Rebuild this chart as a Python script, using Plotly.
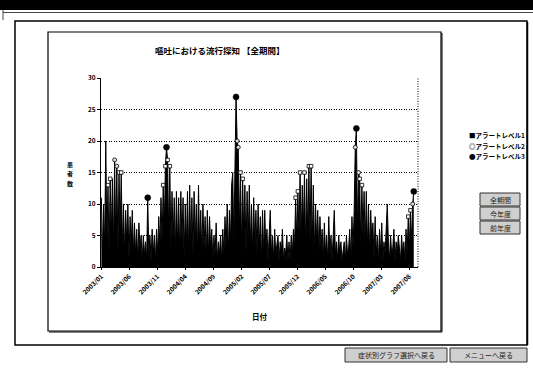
import plotly.graph_objects as go
import pandas as pd

W, H = 533, 372

title_text = "嘔吐における流行探知 【全期間】"
x_title = "日付"
y_title = "患者数"
legend_names = ["アラートレベル1", "アラートレベル2", "アラートレベル3"]
legend_glyphs = ["■", "◎", "●"]
tick_labels = ["2003/01", "2003/06", "2003/11", "2004/04", "2004/09", "2005/02",
               "2005/07", "2005/12", "2006/05", "2006/10", "2007/03", "2007/08"]
side_buttons = ["全期間", "今年度", "前年度"]
bottom_buttons = ["症状別グラフ選択へ戻る", "メニューへ戻る"]

start_date = "2003-01-01"
step_days = 6

# patient counts, one value every 6 days (each row = 60 days)
counts = [
    11, 2, 10, 3, 20, 4, 13, 2, 14, 5,      # 2003-01-01
    14, 3, 17, 5, 16, 2, 15, 6, 15, 3,      # 2003-03-02
    10, 2, 9, 4, 10, 1, 8, 3, 9, 2,         # 2003-05-01
    7, 2, 6, 1, 7, 3, 5, 1, 5, 2,           # 2003-06-30
    4, 1, 11, 2, 5, 1, 6, 2, 5, 1,          # 2003-08-29
    6, 2, 8, 3, 11, 4, 13, 6, 16, 19,       # 2003-10-28
    17, 5, 16, 3, 12, 4, 11, 2, 12, 3,      # 2003-12-27
    11, 2, 12, 4, 11, 1, 10, 3, 12, 2,      # 2004-02-25
    13, 3, 11, 2, 12, 4, 10, 2, 13, 3,      # 2004-04-25
    9, 2, 10, 3, 8, 1, 9, 2, 8, 3,          # 2004-06-24
    6, 1, 5, 2, 7, 1, 4, 2, 5, 1,           # 2004-08-23
    6, 2, 8, 3, 10, 2, 9, 4, 13, 15,        # 2004-10-22
    4, 16, 27, 20, 19, 6, 15, 3, 14, 5,     # 2004-12-21
    13, 2, 12, 4, 13, 3, 10, 2, 11, 3,      # 2005-02-19
    9, 2, 10, 3, 8, 1, 9, 2, 9, 3,          # 2005-04-20
    6, 1, 5, 9, 2, 5, 1, 6, 2, 4,           # 2005-06-19
    5, 1, 4, 2, 6, 1, 3, 2, 5, 1,           # 2005-08-18
    4, 1, 5, 2, 6, 3, 11, 4, 12, 5,         # 2005-10-17
    15, 4, 13, 6, 15, 3, 14, 5, 16, 4,      # 2005-12-16
    16, 3, 13, 2, 10, 4, 9, 2, 8, 3,        # 2006-02-14
    6, 1, 7, 2, 5, 1, 8, 2, 5, 1,           # 2006-04-15
    5, 9, 2, 4, 1, 5, 2, 4, 1, 3,           # 2006-06-14
    4, 1, 5, 2, 3, 6, 1, 8, 3, 9,           # 2006-08-13
    19, 22, 6, 15, 14, 3, 13, 5, 12, 3,     # 2006-10-12
    12, 3, 10, 2, 9, 4, 7, 1, 8, 2,         # 2006-12-11
    5, 1, 6, 2, 7, 1, 4, 2, 5, 10,          # 2007-02-09
    4, 1, 5, 2, 3, 6, 1, 4, 2, 5,           # 2007-04-10
    3, 1, 5, 2, 4, 1, 6, 2, 8, 3,           # 2007-06-09
    9, 4, 10, 12,                           # 2007-08-08
]

# positions (indices into counts) flagged at each alert level
alert1_idx = [6, 8, 16, 18, 56, 58, 60, 62, 126, 128, 176, 178, 180, 184, 188, 190, 234, 236, 278, 280]
alert2_idx = [12, 14, 123, 124, 230, 233, 282]
alert3_idx = [42, 59, 122, 231, 283]

dates = pd.date_range(start_date, periods=len(counts), freq=f"{step_days}D")
tick_dates = [pd.Timestamp(t.replace("/", "-") + "-01") for t in tick_labels]

JP = "Noto Sans CJK JP"


def px(x):
    return x / W


def py(y):
    return 1 - y / H


fig = go.Figure()

fig.add_trace(go.Scatter(
    x=dates, y=counts, mode="lines",
    line=dict(color="black", width=1),
    fill="tozeroy", fillcolor="black",
    showlegend=False, hoverinfo="x+y",
))

marker_styles = [
    dict(symbol="square", size=3.5, color="white", line=dict(color="black", width=0.8)),
    dict(symbol="circle", size=4, color="#dddddd", line=dict(color="black", width=0.8)),
    dict(symbol="circle", size=6, color="black", line=dict(color="black", width=0.5)),
]
for name, idx, ms in zip(legend_names, [alert1_idx, alert2_idx, alert3_idx], marker_styles):
    fig.add_trace(go.Scatter(
        x=[dates[i] for i in idx], y=[counts[i] for i in idx],
        mode="markers", marker=ms, name=name, showlegend=False,
    ))

shapes = []
# black header bar + thin line
shapes.append(dict(type="rect", xref="paper", yref="paper", x0=px(0), x1=px(W), y0=py(10), y1=py(0),
                   fillcolor="black", line=dict(width=0)))
shapes.append(dict(type="line", xref="paper", yref="paper", x0=px(3), x1=px(W), y0=py(12.5), y1=py(12.5),
                   line=dict(color="#444", width=1)))
shapes.append(dict(type="line", xref="paper", yref="paper", x0=px(3), x1=px(3), y0=py(10), y1=py(20),
                   line=dict(color="#444", width=1)))
# outer frame
shapes.append(dict(type="rect", xref="paper", yref="paper", x0=px(15), x1=px(527), y0=py(345), y1=py(21),
                   line=dict(color="black", width=1.5)))
shapes.append(dict(type="line", xref="paper", yref="paper", x0=px(527.5), x1=px(527.5), y0=py(345), y1=py(22),
                   line=dict(color="black", width=1.5)))
# inner chart box
shapes.append(dict(type="rect", xref="paper", yref="paper", x0=px(48), x1=px(441), y0=py(331), y1=py(32),
                   line=dict(color="black", width=1.2)))
shapes.append(dict(type="line", xref="paper", yref="paper", x0=px(442), x1=px(442), y0=py(332), y1=py(33),
                   line=dict(color="black", width=1)))
shapes.append(dict(type="line", xref="paper", yref="paper", x0=px(49), x1=px(442), y0=py(332), y1=py(332),
                   line=dict(color="black", width=1)))
# plot area right edge (dotted)
shapes.append(dict(type="line", xref="paper", yref="paper", x0=px(418), x1=px(418), y0=py(267), y1=py(78),
                   line=dict(color="black", width=1, dash="1px,1.5px")))

annotations = []
# title
annotations.append(dict(text=title_text, x=px(219), y=py(50), xref="paper", yref="paper",
                        showarrow=False, xanchor="center", yanchor="middle",
                        font=dict(family=JP, size=8.5, color="black", weight="bold")))
# y title (stacked vertical, one character per line)
for k, ch in enumerate(y_title):
    annotations.append(dict(text=ch, x=px(70), y=py(164 + 9.5 * k), xref="paper", yref="paper",
                            showarrow=False, xanchor="center", yanchor="middle", borderpad=0,
                            font=dict(family=JP, size=6, color="black", weight="bold")))
# x title
annotations.append(dict(text=x_title, x=px(260), y=py(316), xref="paper", yref="paper",
                        showarrow=False, xanchor="center", yanchor="middle",
                        font=dict(family=JP, size=7.5, color="black", weight="bold")))
# legend
for k, (g, n) in enumerate(zip(legend_glyphs, legend_names)):
    annotations.append(dict(text=g + n, x=px(467), y=py(135 + 10.5 * k), xref="paper", yref="paper",
                            showarrow=False, xanchor="left", yanchor="middle",
                            font=dict(family=JP, size=6.5, color="black", weight="bold")))
# side buttons
for k, b in enumerate(side_buttons):
    y0 = 193 + 14 * k
    shapes.append(dict(type="rect", xref="paper", yref="paper", x0=px(480), x1=px(520), y0=py(y0 + 13), y1=py(y0),
                       fillcolor="#cfcfcf", line=dict(color="#333", width=1)))
    annotations.append(dict(text=b, x=px(500), y=py(y0 + 6.5), xref="paper", yref="paper",
                            showarrow=False, xanchor="center", yanchor="middle",
                            font=dict(family=JP, size=7, color="#222")))
# bottom buttons
for (x0, x1), b in zip([(345, 447), (450, 527)], bottom_buttons):
    shapes.append(dict(type="rect", xref="paper", yref="paper", x0=px(x0), x1=px(x1), y0=py(362), y1=py(348),
                       fillcolor="#cfcfcf", line=dict(color="#333", width=1)))
    annotations.append(dict(text=b, x=px((x0 + x1) / 2), y=py(355), xref="paper", yref="paper",
                            showarrow=False, xanchor="center", yanchor="middle",
                            font=dict(family=JP, size=7, color="#222")))

fig.update_layout(
    width=W, height=H, autosize=False,
    margin=dict(l=0, r=0, t=0, b=0, pad=0),
    paper_bgcolor="white", plot_bgcolor="white",
    shapes=shapes, annotations=annotations,
    showlegend=False,
    xaxis=dict(
        domain=[px(101), px(418)],
        type="date",
        range=["2002-12-30", "2007-09-18"],
        tickvals=tick_dates, ticktext=tick_labels,
        tickangle=-45,
        tickfont=dict(family=JP, size=6.5, color="black", weight="bold"),
        showgrid=False, showline=True, linecolor="black", linewidth=1.2,
        ticks="outside", ticklen=2, tickcolor="black",
        zeroline=False, automargin=False,
    ),
    yaxis=dict(
        domain=[py(267), py(78)],
        range=[0, 30], dtick=5, tick0=0,
        tickfont=dict(family=JP, size=6.5, color="black", weight="bold"),
        showgrid=True, gridcolor="black", gridwidth=1, griddash="1px,1.5px",
        showline=True, linecolor="black", linewidth=1.2,
        ticks="outside", ticklen=3, tickcolor="black",
        zeroline=False, automargin=False,
    ),
)

fig.write_html(
    "out.html",
    post_script="document.body.style.margin='0';document.body.style.padding='0';document.body.style.overflow='hidden';",
)
